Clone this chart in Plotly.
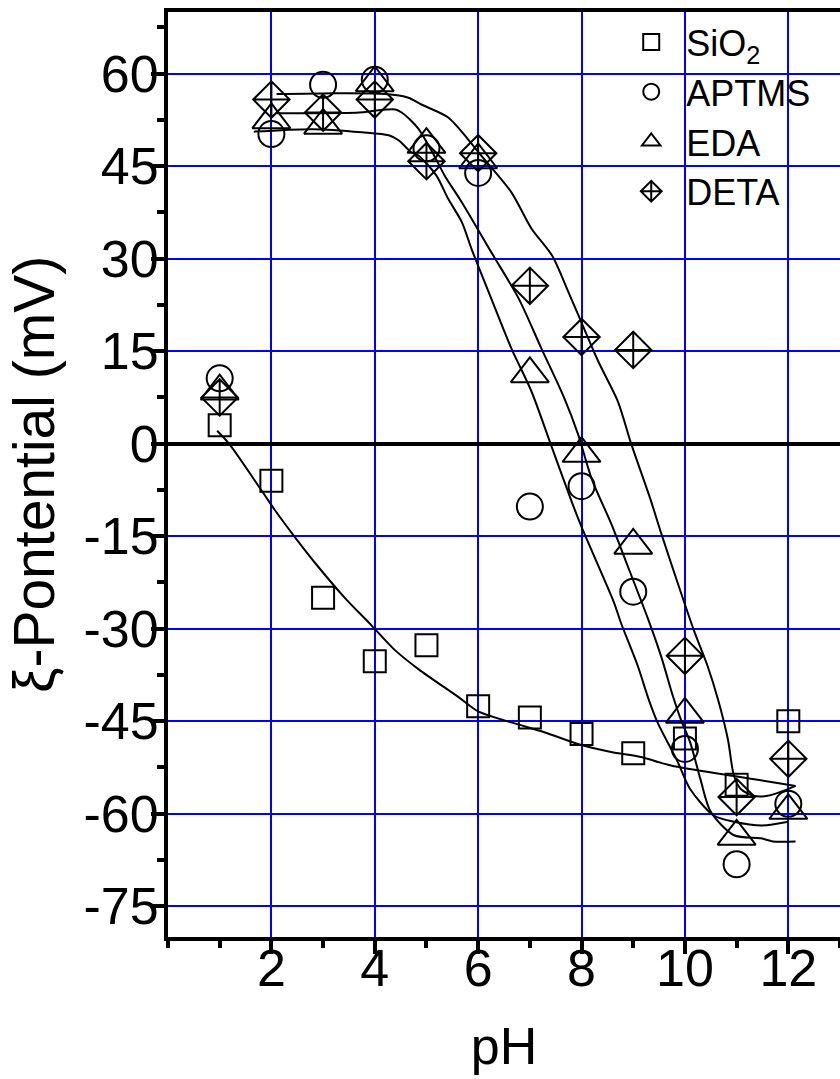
import plotly.graph_objects as go

# ---- data ----
ph = [1, 2, 3, 4, 5, 6, 7, 8, 9, 10, 11, 12]
sio2 = [3.0, -6.0, -25.0, -35.3, -32.7, -42.6, -44.4, -47.1, -50.2, -47.8, -55.3, -45.0]
aptms = [10.6, 50.2, 58.2, 59.0, 47.9, 43.9, -10.2, -6.9, -24.0, -49.5, -68.2, -58.4]
eda = [8.5, 52.5, 51.6, 58.5, 48.5, 46.0, 11.3, -1.6, -16.5, -43.9, -63.7, -59.5]
deta = [7.5, 55.8, 53.7, 55.8, 45.8, 47.1, 25.6, 17.3, 15.2, -34.4, -57.3, -51.1]

# fitted curves
sio2_fit_x = [0.95, 1.18, 1.81, 2.07, 2.45, 2.91, 3.42, 3.94, 4.38, 4.85, 5.62, 6.0,
              6.64, 7.28, 7.93, 8.57, 9.15, 9.73, 10.95, 11.7, 12.14]
sio2_fit_y = [2.1, 0.0, -7.6, -10.8, -15.1, -20.0, -25.0, -29.5, -33.4, -36.6, -41.1, -43.4,
              -45.2, -46.8, -48.7, -50.0, -50.8, -52.2, -53.9, -54.9, -55.5]

aptms_fit_x = [1.66, 2.8, 3.75, 4.27, 4.46, 4.7, 4.85, 5.19, 5.42, 5.68, 5.88, 6.25,
               6.64, 7.03, 7.4, 7.8, 8.0, 8.63, 8.76, 9.09, 9.3, 9.47, 9.86, 10.1,
               10.56, 10.95, 11.5, 12.0]
aptms_fit_y = [50.6, 51.0, 50.5, 50.0, 49.2, 47.3, 46.7, 43.5, 39.7, 36.0, 31.4, 23.6,
               15.5, 8.5, 0.0, -9.2, -13.5, -25.8, -29.0, -36.1, -41.5, -45.2, -51.6, -56.0,
               -60.3, -61.3, -61.9, -61.3]

eda_fit_x = [2.1, 3.7, 4.0, 4.4, 4.52, 4.7, 4.85, 5.15, 5.35, 5.68, 6.25, 6.78, 7.22,
             7.66, 7.93, 8.2, 8.57, 8.9, 9.29, 9.54, 9.77, 9.92, 10.1, 10.3, 10.5, 10.95,
             11.47, 11.7, 12.14]
eda_fit_y = [53.6, 53.7, 54.0, 54.2, 53.7, 52.4, 51.0, 46.7, 43.5, 39.2, 31.1, 23.6, 15.5,
             7.5, 1.6, -5.8, -12.9, -20.0, -28.5, -34.5, -41.0, -44.7, -48.4, -54.4, -59.7, -63.5,
             -64.0, -64.5, -64.5]

deta_fit_x = [2.1, 3.0, 4.2, 4.65, 4.9, 5.42, 5.8, 6.06, 6.64, 7.03, 7.43, 7.74, 7.93,
              8.32, 8.7, 8.96, 9.34, 9.54, 9.86, 10.17, 10.44, 10.64, 10.83, 10.95, 11.08,
              11.33, 11.6, 12.0, 12.14]
deta_fit_y = [56.7, 56.8, 56.7, 56.1, 55.0, 52.9, 49.4, 46.7, 40.8, 34.9, 30.5, 24.7, 21.0,
              13.4, 6.9, 0.0, -9.2, -14.5, -22.6, -30.2, -36.1, -41.5, -47.9, -53.9, -56.0,
              -57.1, -57.1, -56.0, -55.5]

y_ticks = [-75, -60, -45, -30, -15, 0, 15, 30, 45, 60]
y_tick_text = ["-75", "-60", "-45", "-30", "-15", "0", "15", "30", "45", "60"]
x_ticks = [2, 4, 6, 8, 10, 12]
x_tick_text = ["2", "4", "6", "8", "10", "12"]

FONT = "Liberation Sans, Arial, sans-serif"

fig = go.Figure()

for fx, fy in [(sio2_fit_x, sio2_fit_y), (aptms_fit_x, aptms_fit_y),
               (eda_fit_x, eda_fit_y), (deta_fit_x, deta_fit_y)]:
    fig.add_trace(go.Scatter(x=fx, y=fy, mode="lines", showlegend=False,
                             line=dict(color="black", width=2, shape="spline", smoothing=0.8),
                             hoverinfo="skip"))

series = [
    ("SiO<sub>2</sub>", sio2, "square-open", 22),
    ("APTMS", aptms, "circle-open", 26),
    ("EDA", eda, "triangle-up-open", 33),
    ("DETA", deta, "diamond-cross-open", 28),
]
for name, vals, sym, size in series:
    fig.add_trace(go.Scatter(x=ph, y=vals, mode="markers", name=name,
                             marker=dict(symbol=sym, size=size, color="black",
                                         line=dict(color="black", width=2))))

fig.update_layout(
    width=840, height=1079,
    margin=dict(l=168, r=0, t=12, b=142),
    paper_bgcolor="white", plot_bgcolor="white",
    font=dict(family=FONT, color="black", size=52),
    showlegend=True,
    legend=dict(x=0.667, y=1.0, xanchor="left", yanchor="top",
                bgcolor="rgba(0,0,0,0)", borderwidth=0,
                font=dict(size=36, family=FONT, color="black"),
                itemwidth=60, tracegroupgap=0),
    annotations=[dict(text="ξ-Pontential (mV)", textangle=-90, showarrow=False,
                      xref="paper", yref="paper", x=-0.2, y=0.5,
                      xanchor="center", yanchor="middle",
                      font=dict(size=57, family=FONT, color="black"))],
)

fig.update_xaxes(
    range=[0, 13], tickvals=x_ticks, ticktext=x_tick_text, ticks="outside", ticklen=13,
    tickwidth=4, tickcolor="black", showline=True, linewidth=4, linecolor="black", mirror=True,
    showgrid=True, gridcolor="#0000ff", gridwidth=2, zeroline=False,
    tickfont=dict(size=52), ticklabelstandoff=-30,
    title=dict(text="pH", font=dict(size=52), standoff=32),
    minor=dict(dtick=1, ticks="outside", ticklen=7, tickwidth=4, tickcolor="black", showgrid=False),
)
fig.update_yaxes(
    range=[-80, 70], tickvals=y_ticks, ticktext=y_tick_text, ticks="outside", ticklen=13,
    tickwidth=4, tickcolor="black", showline=True, linewidth=4, linecolor="black",
    showgrid=True, gridcolor="#0000ff", gridwidth=2,
    zeroline=True, zerolinecolor="black", zerolinewidth=4,
    tickfont=dict(size=52), ticklabelstandoff=-18,
    minor=dict(dtick=7.5, tick0=0, ticks="outside", ticklen=7, tickwidth=4, tickcolor="black", showgrid=False),
)

fig.write_html("out.html")
